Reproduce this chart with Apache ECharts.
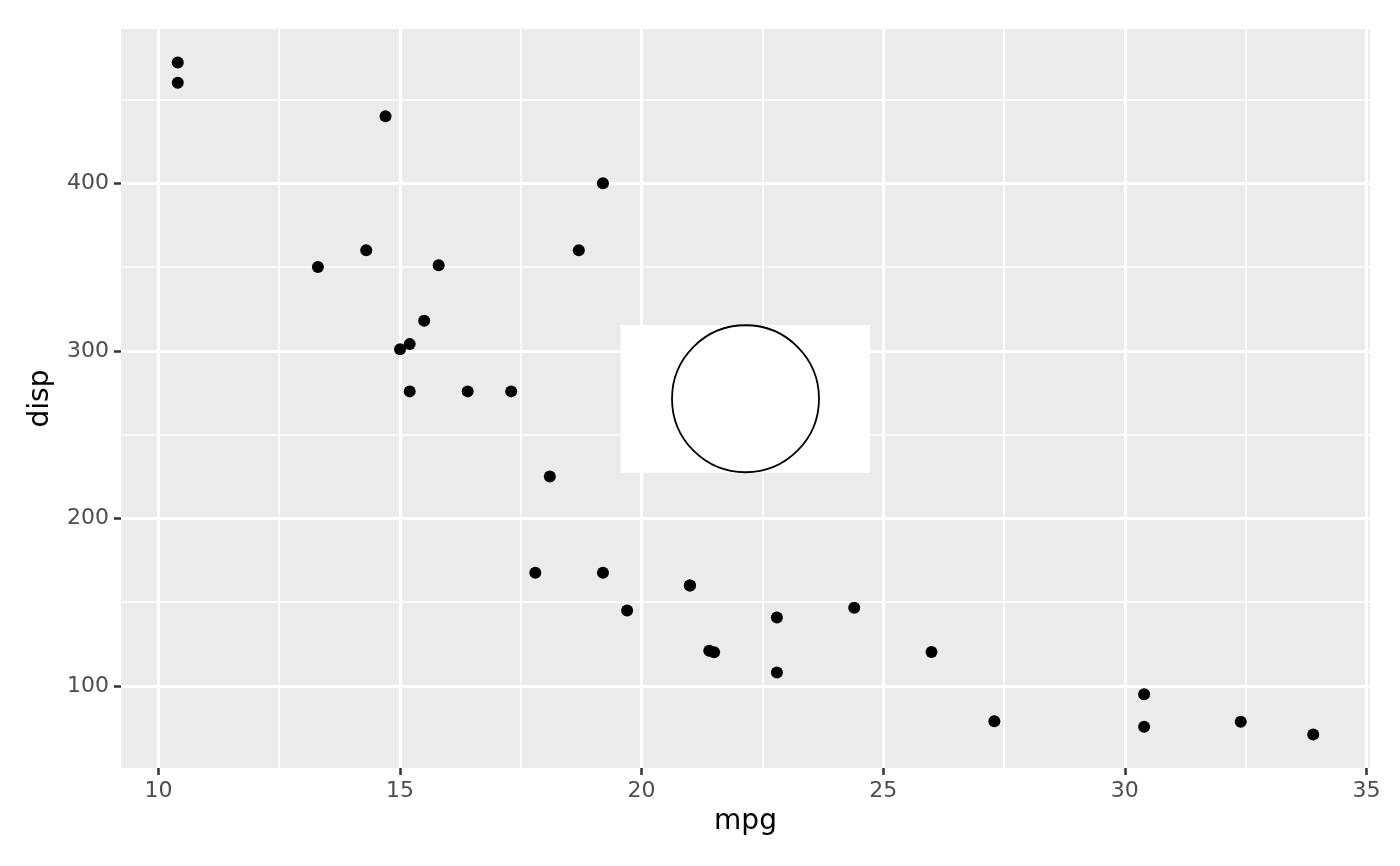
<!DOCTYPE html>
<html>
<head>
<meta charset="utf-8">
<script src="https://cdn.jsdelivr.net/npm/echarts@6/dist/echarts.min.js"></script>
<style>html,body{margin:0;padding:0;background:#fff}#c{width:1400px;height:866px}</style>
</head>
<body>
<div id="c"></div>
<script>
// mtcars: mpg vs disp
const mpg  = [21.0,21.0,22.8,21.4,18.7,18.1,14.3,24.4,22.8,19.2,17.8,16.4,17.3,15.2,10.4,10.4,14.7,32.4,30.4,33.9,21.5,15.5,15.2,13.3,19.2,27.3,26.0,30.4,15.8,19.7,15.0,21.4];
const disp = [160,160,108,258,360,225,360,146.7,140.8,167.6,167.6,275.8,275.8,275.8,472,460,440,78.7,75.7,71.1,120.1,318,304,350,400,79,120.3,95.1,351,145,301,121];
const xTicks = [10,15,20,25,30,35];
const xMinor = [12.5,17.5,22.5,27.5,32.5];
const yTicks = [100,200,300,400];
const yMinor = [150,250,350,450];
const xRange = [9.225, 35.075];
const yRange = [51.055, 492.045];
// annotation: white rectangle [xmin, ymax, xmax, ymin] and circle centre
const rectBox = [[19.566, 315.4, 24.73, 227.3]];
const circleCentre = [[22.15, 271.4]];

const points = mpg.map((v, i) => [v, disp[i]]);
const gridLines = [];
xTicks.forEach(v => gridLines.push({xAxis: v, lineStyle: {width: 3}}));
xMinor.forEach(v => gridLines.push({xAxis: v, lineStyle: {width: 1.5}}));
yTicks.forEach(v => gridLines.push({yAxis: v, lineStyle: {width: 3}}));
yMinor.forEach(v => gridLines.push({yAxis: v, lineStyle: {width: 1.5}}));

const font = 'DejaVu Sans';
const chart = echarts.init(document.getElementById('c'));
chart.setOption({
  animation: false,
  grid: {left: 121, right: 30, top: 29, bottom: 98, show: true, backgroundColor: '#EBEBEB', borderWidth: 0},
  xAxis: {
    type: 'value', min: xRange[0], max: xRange[1],
    name: 'mpg', nameLocation: 'middle', nameGap: 40,
    nameTextStyle: {fontFamily: font, fontSize: 28, color: '#000'},
    axisLine: {show: false},
    axisTick: {show: true, length: 7, customValues: xTicks, lineStyle: {color: '#333333', width: 2.5}},
    axisLabel: {customValues: xTicks, fontFamily: font, fontSize: 22, color: '#4D4D4D', margin: 12},
    splitLine: {show: false}
  },
  yAxis: {
    type: 'value', min: yRange[0], max: yRange[1],
    name: 'disp', nameLocation: 'middle', nameGap: 66,
    nameTextStyle: {fontFamily: font, fontSize: 28, color: '#000'},
    axisLine: {show: false},
    axisTick: {show: true, length: 7, customValues: yTicks, lineStyle: {color: '#333333', width: 2.5}},
    axisLabel: {customValues: yTicks, fontFamily: font, fontSize: 22, color: '#4D4D4D', margin: 12},
    splitLine: {show: false}
  },
  series: [
    {
      type: 'scatter', z: 2, data: points, symbolSize: 12,
      itemStyle: {color: '#000000', opacity: 1}, silent: true,
      markLine: {
        z: 1, silent: true, symbol: 'none', label: {show: false},
        lineStyle: {color: '#FFFFFF', type: 'solid', opacity: 1},
        data: gridLines
      }
    },
    {
      type: 'custom', z: 3, silent: true, data: rectBox,
      encode: {x: [0, 2], y: [1, 3]},
      renderItem: (params, api) => {
        const p1 = api.coord([api.value(0), api.value(1)]);
        const p2 = api.coord([api.value(2), api.value(3)]);
        return {type: 'rect', shape: {x: p1[0], y: p1[1], width: p2[0] - p1[0], height: p2[1] - p1[1]}, style: {fill: '#FFFFFF'}};
      }
    },
    {
      type: 'scatter', z: 4, silent: true, data: circleCentre, symbolSize: 147,
      itemStyle: {color: '#FFFFFF', borderColor: '#000000', borderWidth: 1.8, opacity: 1}
    }
  ]
});
</script>
</body>
</html>
